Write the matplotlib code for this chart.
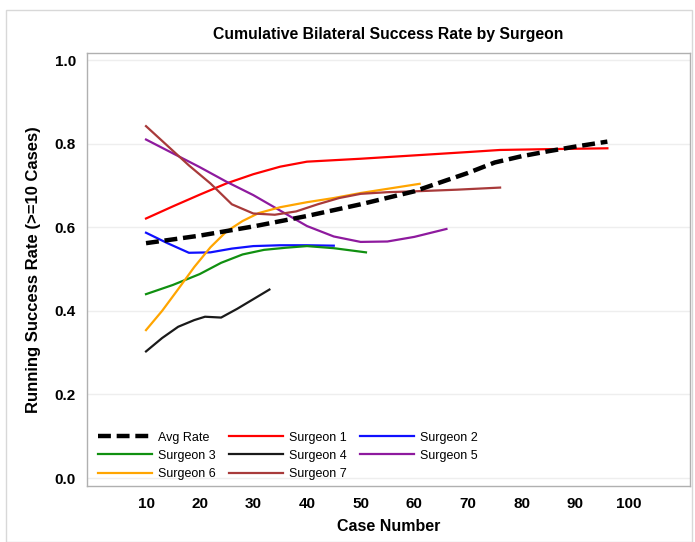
import matplotlib
matplotlib.use("Agg")
import matplotlib.pyplot as plt
from matplotlib.patches import Rectangle

plt.rcParams['font.family'] = ['Liberation Sans', 'DejaVu Sans']

avg_x = [10, 20, 30, 40, 50, 60, 70, 75, 80, 85, 90, 96]
avg_y = [0.562, 0.580, 0.602, 0.627, 0.655, 0.686, 0.730, 0.755, 0.770, 0.782, 0.793, 0.805]

s1_x = [10, 15, 20, 25, 30, 35, 40, 50, 60, 70, 76, 85, 96]
s1_y = [0.621, 0.650, 0.678, 0.705, 0.727, 0.745, 0.757, 0.764, 0.772, 0.780, 0.785, 0.787, 0.789]

s2_x = [10, 14, 18, 22, 26, 30, 35, 40, 45]
s2_y = [0.587, 0.562, 0.539, 0.540, 0.549, 0.555, 0.557, 0.557, 0.556]

s3_x = [10, 15, 20, 24, 28, 32, 36, 40, 45, 51]
s3_y = [0.440, 0.462, 0.488, 0.515, 0.535, 0.546, 0.551, 0.555, 0.550, 0.540]

s4_x = [10, 13, 16, 19, 21, 24, 27, 30, 33]
s4_y = [0.303, 0.335, 0.362, 0.378, 0.386, 0.384, 0.405, 0.428, 0.451]

s5_x = [10, 15, 20, 25, 30, 35, 40, 45, 50, 55, 60, 66]
s5_y = [0.810, 0.777, 0.744, 0.709, 0.677, 0.640, 0.603, 0.578, 0.565, 0.566, 0.577, 0.596]

s6_x = [10, 13, 16, 19, 22, 25, 28, 31, 35, 40, 45, 50, 55, 61]
s6_y = [0.354, 0.400, 0.452, 0.505, 0.552, 0.590, 0.615, 0.634, 0.648, 0.660, 0.670, 0.682, 0.692, 0.704]

s7_x = [10, 14, 18, 22, 26, 30, 34, 38, 42, 46, 50, 55, 60, 68, 76]
s7_y = [0.842, 0.795, 0.748, 0.705, 0.655, 0.633, 0.630, 0.638, 0.655, 0.670, 0.680, 0.684, 0.686, 0.690, 0.695]

x_ticks = [10, 20, 30, 40, 50, 60, 70, 80, 90, 100]
y_ticks = [0.0, 0.2, 0.4, 0.6, 0.8, 1.0]

fig = plt.figure(figsize=(6.95, 5.42), dpi=100)
fig.patches.append(Rectangle((6/695, 0), (692-6)/695, 1 - 10/542, transform=fig.transFigure,
                             fill=False, edgecolor='#d8d8d8', linewidth=1.0))
ax = fig.add_axes([87/695, 1 - 486/542, (690-87)/695, (486-53)/542])

for yv in y_ticks:
    ax.axhline(yv, color='#eeeeee', linewidth=1.0, zorder=0)

lw = 1.6
h = {}
h['Avg Rate'], = ax.plot(avg_x, avg_y, color='black', linestyle=(0, (2.9, 1.3)), linewidth=3.2, label='Avg Rate', zorder=5)
h['Surgeon 1'], = ax.plot(s1_x, s1_y, color='#ff0000', linewidth=lw, label='Surgeon 1')
h['Surgeon 2'], = ax.plot(s2_x, s2_y, color='#1010ff', linewidth=lw, label='Surgeon 2')
h['Surgeon 3'], = ax.plot(s3_x, s3_y, color='#109010', linewidth=lw, label='Surgeon 3')
h['Surgeon 4'], = ax.plot(s4_x, s4_y, color='#1a1a1a', linewidth=lw, label='Surgeon 4')
h['Surgeon 5'], = ax.plot(s5_x, s5_y, color='#8e1a9e', linewidth=lw, label='Surgeon 5')
h['Surgeon 6'], = ax.plot(s6_x, s6_y, color='#ffa500', linewidth=lw, label='Surgeon 6')
h['Surgeon 7'], = ax.plot(s7_x, s7_y, color='#a83a3a', linewidth=lw, label='Surgeon 7')

ax.set_xlim(-1, 111.4)
ax.set_ylim(-0.019, 1.017)
ax.set_xticks(x_ticks)
ax.set_yticks(y_ticks)
ax.set_yticklabels([f'{v:.1f}' for v in y_ticks])
ax.tick_params(length=0, labelsize=11, pad=8)
for lab in ax.get_xticklabels() + ax.get_yticklabels():
    lab.set_fontweight('bold')
for sp in ax.spines.values():
    sp.set_color('#b0b0b0')
    sp.set_linewidth(1.0)

ax.set_title('Cumulative Bilateral Success Rate by Surgeon', fontsize=11.3, fontweight='bold', pad=10)
ax.set_xlabel('Case Number', fontsize=11.5, fontweight='bold', labelpad=6)
ax.set_ylabel('Running Success Rate (>=10 Cases)', fontsize=12, fontweight='bold', labelpad=10)

order = ['Avg Rate', 'Surgeon 3', 'Surgeon 6', 'Surgeon 1', 'Surgeon 4', 'Surgeon 7', 'Surgeon 2', 'Surgeon 5']
leg = ax.legend([h[k] for k in order], order, ncol=3, loc='lower left', frameon=False,
                fontsize=9, handlelength=4.3, columnspacing=1.05, handletextpad=0.5,
                labelspacing=0.49, bbox_to_anchor=(0.0, -0.012))

fig.savefig('out.png', dpi=100)
